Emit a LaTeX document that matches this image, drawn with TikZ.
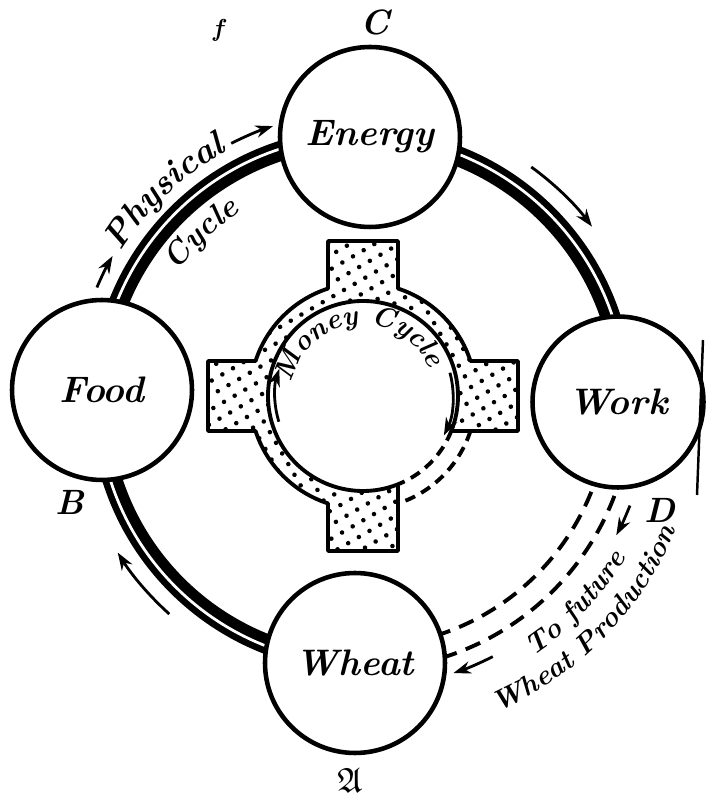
\documentclass[tikz,border=0pt]{standalone}
\usepackage{fontspec}
\usepackage{amssymb}
\usetikzlibrary{arrows.meta,decorations.text,patterns.meta}

\newcommand\stagefont{\bfseries\itshape\fontsize{21}{25}\selectfont}
\newcommand\ringfont{\bfseries\itshape\fontsize{20}{24}\selectfont}
\newcommand\cyclefont{\bfseries\itshape\fontsize{18}{22}\selectfont}
\newcommand\moneyfont{\bfseries\itshape\fontsize{16}{19}\selectfont}
\newcommand\futurefont{\bfseries\itshape\fontsize{16}{19}\selectfont}

\tikzset{
  stage/.style={circle, draw, fill=white, line width=2.6pt, minimum size=3.6cm, inner sep=0pt, font=\stagefont},
  band/.style={line width=0.4cm},
  flow/.style={line width=1.6pt, -{Stealth[length=10pt,width=7pt]}},
  future/.style={line width=2.2pt, dash pattern=on 9pt off 5.5pt},
  moneyline/.style={line width=2.2pt, line join=round},
  cornerlabel/.style={font=\bfseries\itshape\fontsize{20}{24}\selectfont}
}

\begin{document}
\begin{tikzpicture}[x=0.02cm,y=0.02cm]
\useasboundingbox (0,0) rectangle (709,801);
\coordinate (o) at (362,401);
\coordinate (m) at (363,405);

% physical cycle
\draw[band] (o) ++(0:262) arc[start angle=0, end angle=270, radius=262];
\draw[white, line width=0.055cm] (o) ++(0:264) arc[start angle=0, end angle=270, radius=264];
\draw[future] (o) ++(-10:247) arc[start angle=-10, end angle=-80, radius=247];
\draw[future] (o) ++(-10:270) arc[start angle=-10, end angle=-80, radius=270];

\node[stage] (energy) at (370,664) {Energy};
\node[stage] (food) at (102,411) {Food};
\node[stage, minimum size=3.42cm] (work) at (618,399) {Work};
\node[stage] (wheat) at (355,138) {Wheat};

\foreach \a/\b in {157/150, 117/108, 54/37, 228/212, -21.5/-28, -63/-71.5}
  \draw[flow] (o) ++(\a:288) arc[start angle=\a, end angle=\b, radius=288];

\path[decorate, decoration={text along path, text align=center, text={|\ringfont|Physical}}]
  (o) ++(155:283) arc[start angle=155, end angle=112, radius=283];
\path[decorate, decoration={text along path, text align=center, text={|\cyclefont|Cycle}}]
  (o) ++(152:224) arc[start angle=152, end angle=116, radius=224];
\path[decorate, decoration={text along path, text align=center, text={|\futurefont|To future}}]
  (o) ++(-64:308) arc[start angle=-64, end angle=-23, radius=308];
\path[decorate, decoration={text along path, text align=center, text={|\futurefont|Wheat Production}}]
  (o) ++(-72:340) arc[start angle=-72, end angle=-17, radius=340];

% money cycle
\begin{scope}[shift={(m)}]
\draw[moneyline, pattern={Dots[radius=1.3pt, distance=7pt, angle=30]}]
  (-21.6:95) -- (155,-35) -- (155,35) -- (18.04:113)
  arc[start angle=18.04, end angle=71.96, radius=113] -- (35,155) -- (-35,155) -- (108.04:113)
  arc[start angle=108.04, end angle=161.96, radius=113] -- (-155,35) -- (-155,-35) -- (198.04:113)
  arc[start angle=198.04, end angle=251.96, radius=113] -- (-35,-155) -- (35,-155) -- (291.6:95)
  arc[start angle=291.6, end angle=-21.6, radius=95] -- cycle;
\draw[moneyline, dash pattern=on 6pt off 4pt] (-18.04:113) arc[start angle=-18.04, end angle=-71.96, radius=113];
\draw[moneyline, dash pattern=on 6pt off 4pt] (-21.6:95) arc[start angle=-21.6, end angle=-68.4, radius=95];
\draw[flow] (197:88) arc[start angle=197, end angle=162, radius=88];
\draw[flow] (15:90) arc[start angle=15, end angle=-26, radius=90];
\path[decorate, decoration={text along path, text align=center, text={|\moneyfont|Money Cycle}}]
  (172:72) arc[start angle=172, end angle=20, radius=72];
\end{scope}

\node[cornerlabel] (c) at (375,779) {C};
\node[cornerlabel] (b) at (70,299) {B};
\node[cornerlabel] (d) at (660,291) {D};
\node[cornerlabel] (a) at (350,21) {$\mathfrak{A}$};
\node[font=\bfseries\itshape\fontsize{14}{16}\selectfont] (mark) at (218,771) {f};
\draw[line width=1.4pt] (703,461) -- (697,306);
\end{tikzpicture}
\end{document}
